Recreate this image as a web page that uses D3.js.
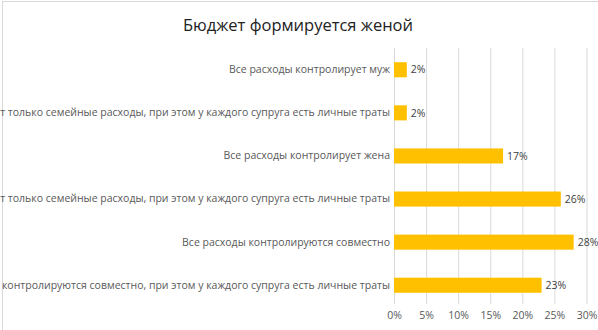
<!DOCTYPE html>
<html>
<head>
<meta charset="utf-8">
<script src="https://cdn.jsdelivr.net/npm/d3@7"></script>
<style>
  html, body { margin: 0; padding: 0; background: #fff; }
  svg { display: block; }
</style>
</head>
<body>
<svg id="chart" width="598" height="330"></svg>
<script>
// Who controls spending when the budget is formed by the wife
const categories = [
  "Все расходы контролирует муж",
  "Муж контролирует только семейные расходы, при этом у каждого супруга есть личные траты",
  "Все расходы контролирует жена",
  "Жена контролирует только семейные расходы, при этом у каждого супруга есть личные траты",
  "Все расходы контролируются совместно",
  "Все расходы контролируются совместно, при этом у каждого супруга есть личные траты"
];
const values = [2, 2, 17, 26, 28, 23];
const tickValues = [0, 5, 10, 15, 20, 25, 30];
const title = "Бюджет формируется женой";

const W = 598, H = 330;
const margin = { top: 48, right: 12, bottom: 25, left: 394 };
const svg = d3.select("#chart");
const font = "'Open Sans', 'Liberation Sans', Arial, sans-serif";

// chart frame
svg.append("line").attr("x1", 2.5).attr("x2", 2.5).attr("y1", 1).attr("y2", H)
  .attr("stroke", "#d9d9d9");
svg.append("line").attr("x1", 2).attr("x2", W).attr("y1", 1.5).attr("y2", 1.5)
  .attr("stroke", "#d9d9d9");

const x = d3.scaleLinear().domain([0, 30]).range([margin.left, 586.5]);
const y = d3.scaleBand().domain(categories)
  .range([margin.top, 307]).paddingInner(0.65).paddingOuter(0.33);

// vertical gridlines
svg.append("g").selectAll("line").data(tickValues).join("line")
  .attr("x1", d => x(d) + 0.5).attr("x2", d => x(d) + 0.5)
  .attr("y1", margin.top).attr("y2", 304)
  .attr("stroke", "#d9d9d9").attr("stroke-width", 1);

// x axis labels
const xAxis = d3.axisBottom(x).tickValues(tickValues).tickSize(0).tickPadding(0)
  .tickFormat(d => d + "%");
const gx = svg.append("g").attr("transform", "translate(0,312)").call(xAxis);
gx.select(".domain").remove();
gx.selectAll("text").attr("fill", "#595959").attr("font-size", "10.5px")
  .attr("font-family", font);

// bars
svg.append("g").selectAll("rect").data(values).join("rect")
  .attr("x", x(0))
  .attr("y", (d, i) => y(categories[i]))
  .attr("width", d => x(d) - x(0))
  .attr("height", y.bandwidth())
  .attr("fill", "#FFC000");

// value labels
svg.append("g").selectAll("text").data(values).join("text")
  .attr("x", d => x(d) + 4)
  .attr("y", (d, i) => y(categories[i]) + y.bandwidth() / 2)
  .attr("dy", "0.35em")
  .attr("fill", "#404040").attr("font-size", "10.5px").attr("font-family", font)
  .text(d => d + "%");

// category labels (right-aligned against the axis)
const yAxis = d3.axisLeft(y).tickSize(0).tickPadding(4);
const gy = svg.append("g").attr("transform", `translate(${margin.left},0)`).call(yAxis);
gy.select(".domain").remove();
gy.selectAll("text").attr("fill", "#595959").attr("font-size", "10.5px")
  .attr("font-family", font);

// title
svg.append("text").attr("x", 298).attr("y", 31).attr("text-anchor", "middle")
  .attr("font-size", "16.5px").attr("font-family", font).attr("fill", "#222")
  .text(title);
</script>
</body>
</html>
